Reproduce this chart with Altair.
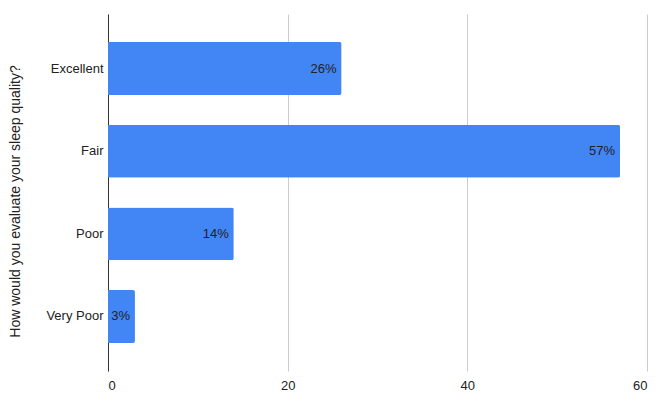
import altair as alt
import pandas as pd

categories = ["Excellent", "Fair", "Poor", "Very Poor"]
values = [26, 57, 14, 3]
labels = ["26%", "57%", "14%", "3%"]

df = pd.DataFrame({"cat": categories, "val": values, "lab": labels})

FONT = "Liberation Sans"

y = alt.Y("cat:N", sort=categories,
          scale=alt.Scale(paddingInner=0.36, paddingOuter=0.34),
          axis=alt.Axis(title="How would you evaluate your sleep quality?",
                        labelFontSize=13, labelColor="#222", labelPadding=5,
                        labelFont=FONT, ticks=False, domain=True,
                        domainColor="#333", domainWidth=1,
                        titleFont=FONT, titleFontSize=14, titleFontWeight="normal",
                        titleColor="#222", titlePadding=23, titleY=187))
x = alt.X("val:Q", scale=alt.Scale(domain=[0, 60], nice=False),
          axis=alt.Axis(title=None, values=[0, 20, 40, 60], grid=True,
                        gridColor="#cccccc", domain=False, ticks=False,
                        labelFontSize=13, labelColor="#222", labelFont=FONT,
                        labelPadding=8))

bars = alt.Chart(df).mark_bar(color="#4285F4", cornerRadiusTopRight=2,
                              cornerRadiusBottomRight=2).encode(x=x, y=y)
text = alt.Chart(df).mark_text(align="right", dx=-5, font=FONT, fontSize=13,
                               color="#222").encode(x="val:Q", y=alt.Y("cat:N", sort=categories), text="lab:N")

chart = (bars + text).properties(width=539, height=357,
                                 padding={"top": 6, "left": 0, "right": 5, "bottom": 5}) \
    .configure_view(stroke=None).configure_axisY(grid=False)

chart.save("out.html", embed_options={"renderer": "svg", "actions": False})
